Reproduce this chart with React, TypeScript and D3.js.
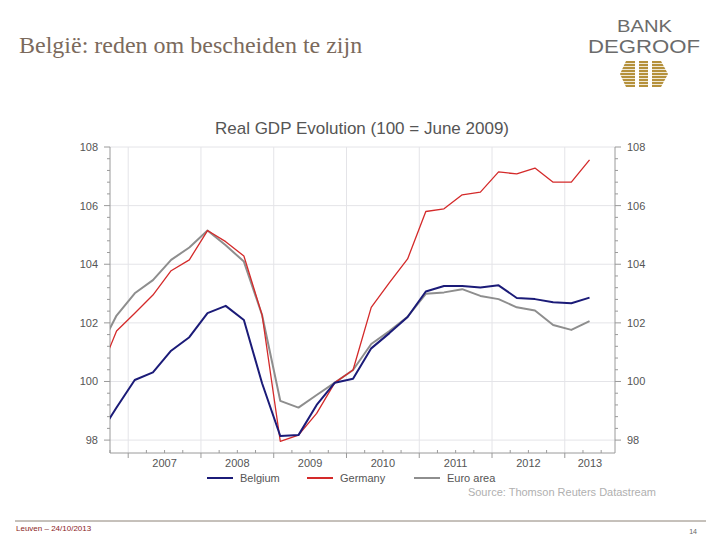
import React, { useEffect, useRef } from "react";
import * as d3 from "d3";

const quarters = [
  "2006Q3", "2006Q4",
  "2007Q1", "2007Q2", "2007Q3", "2007Q4",
  "2008Q1", "2008Q2", "2008Q3", "2008Q4",
  "2009Q1", "2009Q2", "2009Q3", "2009Q4",
  "2010Q1", "2010Q2", "2010Q3", "2010Q4",
  "2011Q1", "2011Q2", "2011Q3", "2011Q4",
  "2012Q1", "2012Q2", "2012Q3", "2012Q4",
  "2013Q1", "2013Q2",
];

const belgium = [
  98.13, 99.11,
  100.05, 100.31, 101.05, 101.51,
  102.33, 102.58, 102.1, 99.94,
  98.14, 98.17, 99.2, 99.96,
  100.09, 101.13, 101.65, 102.2,
  103.07, 103.26, 103.26, 103.21,
  103.28, 102.85, 102.81, 102.7,
  102.67, 102.86,
];

const germany = [
  100.2, 101.72,
  102.33, 102.95, 103.78, 104.15,
  105.15, 104.77, 104.28, 102.27,
  97.96, 98.17, 98.91, 99.96,
  100.39, 102.53, 103.37, 104.18,
  105.8, 105.89, 106.37, 106.46,
  107.15, 107.08, 107.28, 106.8,
  106.8, 107.56,
];

const euroArea = [
  101.04, 102.25,
  103.01, 103.46, 104.15, 104.57,
  105.15, 104.65, 104.09, 102.27,
  99.34, 99.11, 99.54, 99.96,
  100.39, 101.28, 101.72, 102.21,
  102.99, 103.04, 103.15, 102.92,
  102.81, 102.53, 102.42, 101.93,
  101.76, 102.06,
];

const seriesNames = ["Belgium", "Germany", "Euro area"];
const seriesColors = ["#1b1b78", "#d42a2a", "#8e8e8e"];
const seriesWidths = [2, 1.3, 2];
const yTicks = [98, 100, 102, 104, 106, 108];
const years = [2007, 2008, 2009, 2010, 2011, 2012, 2013];

const chartTitle = "Real GDP Evolution (100 = June 2009)";
const slideTitle = "België: reden om bescheiden te zijn";
const sourceText = "Source: Thomson Reuters Datastream";
const footerText = "Leuven – 24/10/2013";
const pageNumber = "14";

function quarterToYear(q: string): number {
  const yr = +q.slice(0, 4);
  const qn = +q.slice(5);
  return yr + (qn - 1) / 4 + 0.09;
}

export default function App() {
  const ref = useRef<SVGSVGElement>(null);

  useEffect(() => {
    const svg = d3.select(ref.current);
    svg.selectAll("*").remove();

    const L = 110, R = 615, T = 147, B = 453;
    const x = d3.scaleLinear().domain([2006.75, 2013.69]).range([L, R]);
    const y = d3.scaleLinear().domain([97.56, 108]).range([B, T]);

    svg.append("rect").attr("width", 720).attr("height", 540).attr("fill", "#fff");

    // Slide title
    svg.append("text")
      .attr("x", 19).attr("y", 53)
      .attr("font-family", "'Liberation Serif', 'Times New Roman', serif")
      .attr("font-size", 24)
      .attr("fill", "#7b6a5c")
      .text(slideTitle);

    // Logo
    const logo = svg.append("g");
    logo.append("text").attr("x", 617).attr("y", 32)
      .attr("font-family", "'Liberation Sans', Arial, sans-serif")
      .attr("font-size", 16).attr("fill", "#6b6b6b")
      .attr("textLength", 55).attr("lengthAdjust", "spacingAndGlyphs")
      .text("BANK");
    logo.append("text").attr("x", 588).attr("y", 53)
      .attr("font-family", "'Liberation Sans', Arial, sans-serif")
      .attr("font-size", 19).attr("fill", "#6b6b6b")
      .attr("textLength", 112).attr("lengthAdjust", "spacingAndGlyphs")
      .text("DEGROOF");
    const gold = "#b5913c";
    logo.append("polygon").attr("points", "620,74 626,61 635,61 635,87 626,87").attr("fill", gold);
    logo.append("rect").attr("x", 639).attr("y", 61).attr("width", 9).attr("height", 26).attr("fill", gold);
    logo.append("polygon").attr("points", "652,61 661,61 668,74 661,87 652,87").attr("fill", gold);
    for (let yy = 63.5; yy < 87; yy += 3) {
      logo.append("line").attr("x1", 618).attr("x2", 670).attr("y1", yy).attr("y2", yy)
        .attr("stroke", "#fff").attr("stroke-width", 0.8);
    }

    // Chart title
    svg.append("text")
      .attr("x", 362).attr("y", 134)
      .attr("text-anchor", "middle")
      .attr("font-family", "'Liberation Sans', Arial, sans-serif")
      .attr("font-size", 17)
      .attr("fill", "#555")
      .text(chartTitle);

    // Grid
    const grid = svg.append("g").attr("stroke", "#e4e4e8").attr("stroke-width", 1);
    yTicks.forEach((v) => {
      grid.append("line").attr("x1", L).attr("x2", R).attr("y1", y(v)).attr("y2", y(v));
    });
    years.forEach((yr) => {
      grid.append("line").attr("x1", x(yr)).attr("x2", x(yr)).attr("y1", T).attr("y2", B);
    });

    // Axes
    const axisColor = "#9a9a9a";
    const ax = svg.append("g").attr("stroke", axisColor).attr("stroke-width", 1);
    ax.append("line").attr("x1", L).attr("x2", L).attr("y1", T).attr("y2", B);
    ax.append("line").attr("x1", R).attr("x2", R).attr("y1", T).attr("y2", B);
    ax.append("line").attr("x1", L).attr("x2", R).attr("y1", B).attr("y2", B);

    const minorY = d3.range(98, 108.001, 0.4).filter((v) => Math.abs(v - Math.round(v / 2) * 2) > 0.05);
    yTicks.forEach((v) => {
      ax.append("line").attr("x1", L - 6).attr("x2", L).attr("y1", y(v)).attr("y2", y(v));
      ax.append("line").attr("x1", R).attr("x2", R + 6).attr("y1", y(v)).attr("y2", y(v));
    });
    minorY.forEach((v) => {
      ax.append("line").attr("x1", L - 3).attr("x2", L).attr("y1", y(v)).attr("y2", y(v));
      ax.append("line").attr("x1", R).attr("x2", R + 3).attr("y1", y(v)).attr("y2", y(v));
    });
    const quarterTicks = d3.range(2006.75, 2013.7, 0.25);
    quarterTicks.forEach((t) => {
      const major = Math.abs(t - Math.round(t)) < 0.01;
      ax.append("line").attr("x1", x(t)).attr("x2", x(t))
        .attr("y1", B).attr("y2", major ? B + 5 : B - 3);
    });

    const labelFont = "'Liberation Sans', Arial, sans-serif";
    yTicks.forEach((v) => {
      svg.append("text").attr("x", 98).attr("y", y(v) + 4)
        .attr("text-anchor", "end").attr("font-family", labelFont)
        .attr("font-size", 11).attr("fill", "#555").text(String(v));
      svg.append("text").attr("x", 627).attr("y", y(v) + 4)
        .attr("text-anchor", "start").attr("font-family", labelFont)
        .attr("font-size", 11).attr("fill", "#555").text(String(v));
    });
    years.forEach((yr) => {
      const cx = (x(yr) + Math.min(x(yr + 1), R)) / 2;
      svg.append("text").attr("x", cx).attr("y", 467)
        .attr("text-anchor", "middle").attr("font-family", labelFont)
        .attr("font-size", 11).attr("fill", "#555").text(String(yr));
    });

    // Lines
    svg.append("clipPath").attr("id", "plotclip")
      .append("rect").attr("x", L).attr("y", T - 5).attr("width", R - L).attr("height", B - T + 5);
    const allSeries = [euroArea, germany, belgium];
    const order = [2, 1, 0];
    const line = d3.line<number>()
      .x((_, i) => x(quarterToYear(quarters[i])))
      .y((d) => y(d));
    const lines = svg.append("g").attr("clip-path", "url(#plotclip)");
    allSeries.forEach((s, k) => {
      const idx = order[k];
      lines.append("path").attr("d", line(s) as string)
        .attr("fill", "none")
        .attr("stroke", seriesColors[idx])
        .attr("stroke-width", seriesWidths[idx])
        .attr("stroke-linejoin", "round");
    });

    // Legend
    const legendX = [207, 307, 414];
    seriesNames.forEach((name, i) => {
      svg.append("line").attr("x1", legendX[i]).attr("x2", legendX[i] + 26)
        .attr("y1", 478).attr("y2", 478)
        .attr("stroke", seriesColors[i]).attr("stroke-width", 2);
      svg.append("text").attr("x", legendX[i] + 33).attr("y", 482)
        .attr("font-family", labelFont).attr("font-size", 11).attr("fill", "#555")
        .text(name);
    });

    svg.append("text").attr("x", 656).attr("y", 496)
      .attr("text-anchor", "end").attr("font-family", labelFont)
      .attr("font-size", 11).attr("fill", "#b0b0b0").text(sourceText);

    // Footer
    svg.append("line").attr("x1", 15).attr("x2", 706).attr("y1", 521).attr("y2", 521)
      .attr("stroke", "#8c8276").attr("stroke-width", 1);
    svg.append("text").attr("x", 16).attr("y", 531)
      .attr("font-family", labelFont).attr("font-size", 8).attr("fill", "#8b1c1c")
      .text(footerText);
    svg.append("text").attr("x", 697).attr("y", 534)
      .attr("text-anchor", "end").attr("font-family", labelFont)
      .attr("font-size", 7).attr("fill", "#666").text(pageNumber);
  }, []);

  return (
    <svg
      ref={ref}
      width={720}
      height={540}
      style={{ position: "absolute", left: 0, top: 0, background: "#fff" }}
    />
  );
}
